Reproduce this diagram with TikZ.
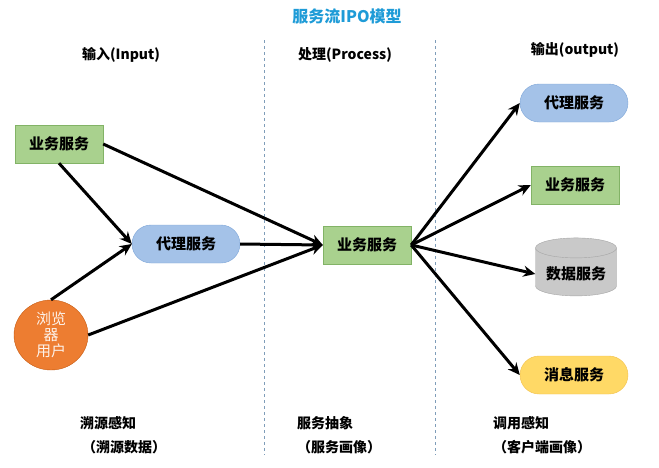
\documentclass[tikz,border=0pt]{standalone}
\usepackage{fontspec}
\setmainfont{Noto Sans CJK SC}
\usetikzlibrary{arrows.meta,shapes.geometric}
\definecolor{gfill}{HTML}{A9D18E}\definecolor{gdraw}{HTML}{82B366}
\definecolor{bfill}{HTML}{A4C2E8}\definecolor{bdraw}{HTML}{7EA6D8}
\definecolor{ofill}{HTML}{ED7D31}\definecolor{odraw}{HTML}{C55A11}
\definecolor{yfill}{HTML}{FFD966}\definecolor{ydraw}{HTML}{F2C14E}
\definecolor{dfill}{HTML}{C9C9C9}\definecolor{ddraw}{HTML}{A5A5A5}
\definecolor{ttl}{HTML}{1E9BD7}\definecolor{sep}{HTML}{7F9DB9}
\begin{document}
\begin{tikzpicture}[x=1pt,y=-1pt,font=\fontsize{14}{16}\selectfont\bfseries,
 bx/.style={font=\fontsize{15}{17}\selectfont\bfseries},
 gbox/.style={bx,draw=gdraw,fill=gfill,minimum width=88pt,minimum height=38pt},
 pill/.style={bx,draw=bdraw,fill=bfill,rounded corners=19pt,minimum width=108pt,minimum height=38pt},
 arr/.style={line width=3pt,-{Stealth[length=12pt,width=11pt]}},
 lbl/.style={anchor=west,inner sep=0pt}]
\useasboundingbox (0,0) rectangle (659,467);
\node[font=\fontsize{16}{18}\selectfont\bfseries,text=ttl] (title) at (347,16) {服务流IPO模型};
\node (h1) at (121,55) {输入(Input)};
\node (h2) at (345,55) {处理(Process)};
\node (h3) at (575,50) {输出(output)};
\draw[sep,dashed] (264,40) coordinate (s1a) -- (264,455) coordinate (s1b);
\draw[sep,dashed] (435,40) coordinate (s2a) -- (435,455) coordinate (s2b);
\node[gbox] (b1) at (59,144) {业务服务};
\node[pill] (p1) at (186,244) {代理服务};
\node[ellipse,draw=odraw,fill=ofill,minimum width=74pt,minimum height=70pt,inner sep=0pt,align=center,text=white!90!ofill,font=\fontsize{15}{16}\selectfont] (u) at (51,335) {浏览\\器\\用户};
\node[gbox] (c) at (367,245) {业务服务};
\node[pill] (o1) at (574,103) {代理服务};
\node[gbox] (o2) at (575,185) {业务服务};
\node[cylinder,shape border rotate=90,aspect=0.3,draw=ddraw,fill=dfill,minimum width=81pt,minimum height=58pt,bx] (o3) at (576,274) {数据服务};
\node[pill,draw=ydraw,fill=yfill] (o4) at (574,375) {消息服务};
\draw[arr] (b1.east) -- (c.west);
\draw[arr] (b1.south) -- (p1.west);
\draw[arr] (u.north) -- (p1.west);
\draw[arr] (u.east) -- (c.west);
\draw[arr] (p1.east) -- (c.west);
\draw[arr] (c.east) -- (o1.west);
\draw[arr] (c.east) -- (o2.west);
\draw[arr] (c.east) -- (o3.west);
\draw[arr] (c.east) -- (o4.west);
\node[lbl] (t1) at (80,423) {溯源感知};
\node[lbl] (t2) at (82,447) {（溯源数据）};
\node[lbl] (t3) at (297,423) {服务抽象};
\node[lbl] (t4) at (297,447) {（服务画像）};
\node[lbl] (t5) at (493,423) {调用感知};
\node[lbl] (t6) at (493,447) {（客户端画像）};
\end{tikzpicture}
\end{document}
